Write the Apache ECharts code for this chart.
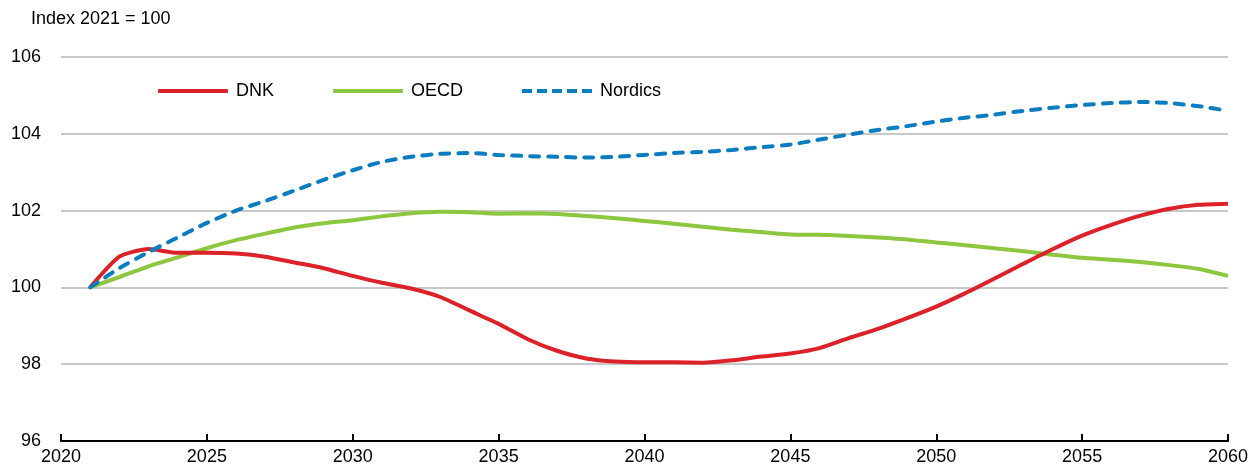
<!DOCTYPE html>
<html>
<head>
<meta charset="utf-8">
<script src="https://cdn.jsdelivr.net/npm/echarts@6/dist/echarts.min.js"></script>
<style>html,body{margin:0;padding:0;background:#fff;}#c{width:1248px;height:469px;}</style>
</head>
<body>
<div id="c"></div>
<script>
const years = [];
for (let y = 2021; y <= 2060; y++) years.push(y);
const dnk = [100,100.8,101.0,100.9,100.9,100.88,100.8,100.65,100.5,100.3,100.12,99.97,99.75,99.4,99.05,98.65,98.35,98.15,98.07,98.05,98.05,98.04,98.1,98.2,98.28,98.42,98.68,98.92,99.2,99.5,99.85,100.23,100.62,101.0,101.35,101.63,101.87,102.05,102.15,102.18];
const oecd = [100,100.27,100.55,100.78,101.02,101.23,101.4,101.56,101.67,101.75,101.85,101.93,101.97,101.96,101.92,101.93,101.91,101.86,101.8,101.73,101.66,101.58,101.5,101.44,101.38,101.37,101.34,101.3,101.25,101.17,101.1,101.02,100.94,100.85,100.77,100.72,100.66,100.58,100.48,100.3];
const nordics = [100,100.5,100.92,101.3,101.68,102.0,102.25,102.52,102.8,103.05,103.27,103.4,103.48,103.5,103.45,103.42,103.4,103.38,103.4,103.45,103.5,103.53,103.58,103.65,103.72,103.85,103.98,104.1,104.2,104.32,104.42,104.5,104.6,104.68,104.75,104.8,104.83,104.8,104.72,104.6];
const seriesNames = ['DNK','OECD','Nordics'];
const unitLabel = 'Index 2021 = 100';

const FONT = '"Liberation Sans Narrow", "Liberation Sans", Arial, sans-serif';
const pair = a => a.map((v,i)=>[years[i], v]);
const dashIcon = 'path://M0,0h10v4h-10zM15,0h10v4h-10zM30,0h10v4h-10zM45,0h10v4h-10zM60,0h10v4h-10z';
const chart = echarts.init(document.getElementById('c'), null, {renderer:'canvas'});
chart.setOption({
  animation:false,
  textStyle:{fontFamily:FONT},
  grid:{left:61, right:20, top:57, bottom:28, containLabel:false, outerBoundsMode:'none'},
  graphic:[{type:'text', left:31, top:10, style:{text:unitLabel, font:'18px '+FONT, fill:'#000'}}],
  legend:{
    left:153, top:77, itemWidth:70, itemHeight:4, itemGap:59,
    textStyle:{fontSize:18, color:'#000', fontFamily:FONT, padding:[0,0,0,3]},
    data:[
      {name:seriesNames[0], icon:'roundRect'},
      {name:seriesNames[1], icon:'roundRect'},
      {name:seriesNames[2], icon:dashIcon}
    ]
  },
  xAxis:{
    type:'value', min:2020, max:2060, interval:5,
    axisLine:{lineStyle:{color:'#000', width:2}},
    axisTick:{inside:true, length:7, lineStyle:{color:'#000', width:2}},
    axisLabel:{color:'#000', fontSize:18, margin:7, fontFamily:FONT, formatter:v=>String(v)},
    splitLine:{show:false}
  },
  yAxis:{
    type:'value', min:96, max:106, interval:2,
    axisLine:{show:false}, axisTick:{show:false},
    axisLabel:{color:'#000', fontSize:18, margin:20, fontFamily:FONT, verticalAlign:'middle'},
    splitLine:{lineStyle:{color:'#c8c8c8', width:2}}
  },
  series:[
    {name:seriesNames[0], type:'line', data:pair(dnk), showSymbol:false, symbol:'none', smooth:0.2,
     lineStyle:{color:'#dc2228', width:4}, itemStyle:{color:'#dc2228'}, z:3},
    {name:seriesNames[1], type:'line', data:pair(oecd), showSymbol:false, symbol:'none', smooth:0.2,
     lineStyle:{color:'#8dc63f', width:4}, itemStyle:{color:'#8dc63f'}, z:2},
    {name:seriesNames[2], type:'line', data:pair(nordics), showSymbol:false, symbol:'none', smooth:0.2,
     lineStyle:{color:'#0a7cc1', width:4, type:[9,9], cap:'round'}, itemStyle:{color:'#0a7cc1'}, z:4}
  ]
});
</script>
</body>
</html>
